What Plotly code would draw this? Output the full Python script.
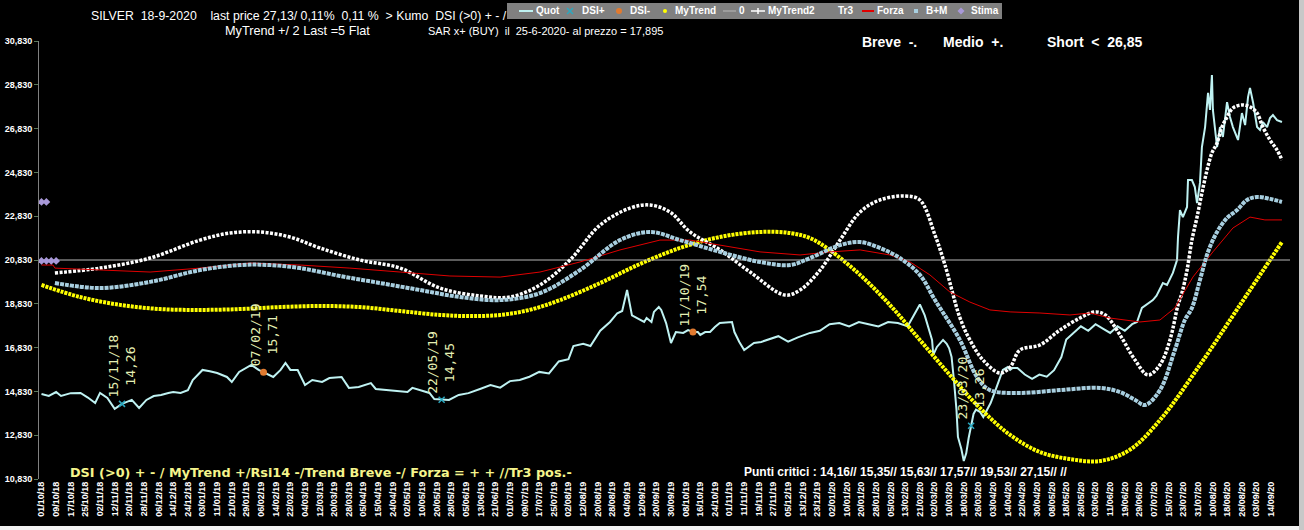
import plotly.graph_objects as go

# ---------------- data ----------------
TICK_LABELS = [
    "01/10/18", "09/10/18", "17/10/18", "25/10/18", "02/11/18", "12/11/18", "20/11/18", "28/11/18",
    "06/12/18", "14/12/18", "24/12/18", "03/01/19", "11/01/19", "21/01/19", "29/01/19", "06/02/19",
    "14/02/19", "22/02/19", "04/03/19", "12/03/19", "20/03/19", "28/03/19", "05/04/19", "15/04/19",
    "24/04/19", "02/05/19", "10/05/19", "20/05/19", "28/05/19", "05/06/19", "13/06/19", "21/06/19",
    "01/07/19", "09/07/19", "17/07/19", "25/07/19", "02/08/19", "12/08/19", "20/08/19", "28/08/19",
    "04/09/19", "12/09/19", "20/09/19", "30/09/19", "08/10/19", "16/10/19", "24/10/19", "01/11/19",
    "11/11/19", "19/11/19", "27/11/19", "05/12/19", "13/12/19", "23/12/19", "02/01/20", "10/01/20",
    "20/01/20", "28/01/20", "05/02/20", "13/02/20", "21/02/20", "02/03/20", "10/03/20", "18/03/20",
    "26/03/20", "03/04/20", "14/04/20", "22/04/20", "30/04/20", "08/05/20", "18/05/20", "26/05/20",
    "03/06/20", "11/06/20", "19/06/20", "29/06/20", "07/07/20", "15/07/20", "23/07/20", "31/07/20",
    "10/08/20", "18/08/20", "26/08/20", "03/09/20", "14/09/20",
]
TICK_STEP = 6  # trading days between labels

quot_day = [0, 3, 6, 8, 12, 16, 19, 22, 24, 27, 30, 33, 35, 37, 40, 43, 46, 49, 52, 54, 57, 60, 62, 66,
            69, 72, 76, 78, 81, 86, 89, 91, 95, 98, 100, 102, 105, 108, 111, 115, 118, 123, 126, 130,
            135, 137, 143, 150, 152, 159, 161, 164, 167, 171, 175, 180, 184, 188, 192, 196, 200, 204,
            208, 212, 216, 218, 222, 225, 229, 233, 236, 238, 240, 242, 245, 247, 248, 250, 251, 253,
            254, 256, 258, 259, 260, 263, 265, 267, 269, 270, 272, 274, 276, 278, 281, 283, 284, 286,
            288, 290, 292, 295, 298, 302, 306, 310, 315, 319, 323, 327, 331, 335, 339, 343, 347, 351,
            355, 357, 360, 362, 364, 365, 365.5, 367, 369.5, 371, 372, 373, 374, 375, 375.6, 377, 378,
            379, 380, 381, 382, 383, 384.6, 386, 387.5, 389, 391, 392, 393, 394, 396, 397, 398, 400,
            403, 406, 409, 412, 415, 418, 420, 423, 426, 429, 432, 435, 438, 441, 444, 447, 449, 451,
            455.5, 457, 459.6, 461.3, 463.7, 465.4, 465.8, 466.6, 467.8, 469.5, 469.9, 471.5, 472.7,
            473.6, 474.8, 475.6, 476.9, 478.1, 478.9, 479.7, 480.1, 481.8, 483, 484.2, 485.9, 487.1,
            488.3, 490.4, 492, 493.3, 494.5, 495.3, 496.6, 498.2, 499.4, 500.6, 502.3, 503.5, 504.7,
            506.4, 508.4]
quot_val = [14.71, 14.62, 14.80, 14.62, 14.75, 14.76, 14.55, 14.30, 14.76, 14.53, 14.03, 14.26, 14.35,
            14.44, 14.07, 14.44, 14.62, 14.67, 14.76, 14.80, 14.76, 14.89, 15.35, 15.81, 15.75, 15.67,
            15.49, 15.26, 15.72, 16.04, 15.81, 15.71, 15.49, 15.81, 16.13, 15.81, 15.81, 15.12, 15.35,
            15.26, 15.44, 15.49, 14.99, 15.03, 15.21, 14.94, 14.89, 14.80, 14.99, 14.76, 14.48, 14.45,
            14.44, 14.67, 14.75, 14.95, 15.12, 15.00, 15.30, 15.35, 15.50, 15.72, 15.65, 16.20, 16.30,
            16.90, 17.00, 16.90, 17.60, 18.00, 18.40, 18.50, 19.46, 18.30, 18.10, 18.00, 18.18, 18.00,
            18.46, 18.68, 18.55, 17.95, 17.04, 17.31, 17.54, 17.50, 17.63, 17.54, 17.54, 17.41, 17.54,
            17.54, 17.77, 17.95, 18.00, 18.00, 17.54, 17.09, 16.72, 16.86, 17.04, 17.09, 17.20, 17.35,
            17.10, 17.30, 17.50, 17.60, 17.90, 17.95, 17.80, 18.00, 17.90, 17.80, 18.00, 17.95, 17.80,
            18.20, 18.80, 18.30, 17.60, 17.18, 16.50, 16.86, 17.18, 17.00, 16.80, 16.40, 15.30, 14.00,
            12.75, 12.20, 11.65, 12.00, 12.70, 13.26, 13.80, 14.00, 13.90, 13.66, 13.98, 14.30, 14.89,
            15.20, 15.44, 15.81, 15.94, 15.81, 15.90, 15.90, 15.60, 15.40, 15.60, 15.50, 15.80, 16.40,
            17.20, 17.50, 17.80, 17.60, 17.90, 17.70, 17.50, 17.80, 17.60, 17.90, 18.00, 18.64, 19.00,
            19.20, 19.78, 19.69, 20.24, 20.83, 21.88, 23.11, 22.79, 23.25, 24.48, 24.48, 24.16, 23.43,
            24.35, 25.99, 26.90, 28.46, 27.68, 29.28, 27.68, 25.99, 26.90, 26.45, 28.04, 27.36, 26.90,
            26.31, 27.54, 26.99, 28.27, 28.69, 28.00, 26.90, 26.77, 27.13, 26.90, 27.31, 27.45, 27.22,
            27.13]

dsi_plus_day = [33, 164, 381]
dsi_plus_val = [14.26, 14.45, 13.26]
dsi_plus_date = ["15/11/18", "22/05/19", "23/03/20"]

dsi_minus_day = [91, 267]
dsi_minus_val = [15.71, 17.54]
dsi_minus_date = ["07/02/19", "11/10/19"]

mytrend_day = [0, 15.8, 32.2, 48.6, 65, 81.4, 97.7, 114.1, 130.5, 147, 163.3, 175.6, 188, 200, 212.5,
               229, 245.3, 261.7, 278, 294.5, 306.8, 315, 323, 335.5, 347.7, 360, 372.3, 384.6, 397,
               409.2, 421.5, 433.8, 446, 458.4, 474.8, 490.4, 508.4]
mytrend_val = [19.69, 19.14, 18.78, 18.59, 18.55, 18.59, 18.68, 18.73, 18.68, 18.50, 18.32, 18.27,
               18.32, 18.55, 19.00, 19.78, 20.65, 21.38, 21.88, 22.11, 22.06, 21.83, 21.29, 20.15,
               18.78, 17.18, 15.58, 14.07, 12.84, 12.06, 11.74, 11.65, 12.16, 13.52, 16.04, 18.64,
               21.65]

zero_day = [-1, 511.7]
zero_val = [20.83, 20.83]

mytrend2_day = [5.5, 24, 44.5, 65, 77.3, 89.5, 101.8, 114.1, 130.5, 147, 163.3, 179.7, 192, 204.3,
                216.6, 229, 241.2, 249.4, 257.6, 265.8, 278.1, 290.4, 304.7, 310.9, 319.1, 327.3,
                335.5, 343.6, 353.9, 360, 366.2, 370.3, 376.4, 380.5, 385.9, 392.8, 397, 401, 409.2,
                417.4, 425.6, 431.8, 436, 442, 448.2, 453.5, 458.4, 462.5, 465.8, 467.4, 469.5,
                471.5, 473.6, 475.6, 477.7, 479.7, 481.8, 483.8, 485.9, 488.3, 492, 495.3, 498.2,
                500.6, 503.5, 506.4, 508.4]
mytrend2_val = [20.24, 20.46, 20.92, 21.74, 22.06, 22.11, 21.88, 21.38, 20.83, 20.46, 19.55, 19.19,
                19.14, 19.69, 20.83, 22.43, 23.20, 23.34, 23.02, 22.11, 21.29, 20.28, 19.23, 19.46,
                20.37, 21.74, 23.02, 23.57, 23.75, 23.57, 21.97, 20.60, 18.20, 17.18, 16.26, 15.67,
                15.94, 16.72, 16.95, 17.63, 18.18, 18.46, 18.32, 17.41, 16.26, 15.58, 16.04, 17.18,
                18.78, 19.32, 20.37, 21.74, 22.79, 23.89, 24.94, 25.72, 26.17, 26.90, 27.36, 27.77,
                27.91, 27.82, 27.54, 26.90, 26.31, 25.85, 25.40]

forza_day = [0, 4.7, 5.5, 28, 44.5, 65, 85.5, 106, 126.4, 147, 167.4, 188, 204.3, 220.7, 237.1, 253.5,
             265.8, 278.1, 294.5, 310.9, 323.2, 335.5, 347.7, 356, 364.1, 372.3, 380.5, 388.7, 397,
             409.2, 421.5, 429.7, 437.9, 450.2, 458.4, 464.5, 471.9, 480.1, 488.3, 495.3, 501.4, 508.4]
forza_val = [20.60, 20.60, 20.46, 20.37, 20.28, 20.46, 20.69, 20.60, 20.46, 20.28, 20.10, 20.05, 20.28,
             20.74, 21.29, 21.74, 21.74, 21.51, 21.20, 21.06, 21.20, 21.29, 21.06, 20.74, 20.15, 19.37,
             18.91, 18.55, 18.46, 18.41, 18.32, 18.41, 18.18, 18.00, 18.09, 18.64, 20.05, 21.20, 22.29,
             22.79, 22.66, 22.66]

bm_day = [5.5, 24, 44.5, 65, 81.4, 93.6, 106, 122.3, 138.7, 155.1, 171.5, 187.9, 204.3, 220.7, 237.1,
          249.4, 261.7, 278.1, 294.5, 306.8, 315, 327.3, 335.5, 343.6, 351.8, 360, 366.2, 376.4,
          383.4, 388.7, 401, 417.4, 433.8, 442, 448.2, 452.3, 458.4, 464.5, 468.6, 471.5, 474.8,
          478.1, 481.8, 485.9, 490, 494.1, 498.2, 503.5, 508.4]
bm_val = [19.78, 19.55, 19.83, 20.37, 20.60, 20.60, 20.46, 20.10, 19.78, 19.46, 19.14, 19.00, 19.32,
          20.37, 21.74, 22.11, 21.74, 21.20, 20.74, 20.60, 20.92, 21.51, 21.65, 21.38, 20.92, 20.15,
          19.00, 17.18, 15.49, 14.89, 14.76, 14.89, 14.99, 14.80, 14.44, 14.21, 14.89, 16.72, 18.09,
          18.64, 19.92, 21.20, 22.11, 22.75, 23.11, 23.57, 23.71, 23.62, 23.48]

stima_day = [0, 2, 0, 2, 4, 6]
stima_val = [23.48, 23.48, 20.79, 20.79, 20.79, 20.79]

LEGEND_NAMES = ["Quot", "DSI+", "DSI-", "MyTrend", "0", "MyTrend2", "Tr3", "Forza", "B+M", "Stima"]

Y_MIN, Y_MAX, Y_STEP = 10.83, 30.83, 2.0
X_RANGE = [-1.02, 511.7]

# ---------------- colours ----------------
C_QUOT, C_DSIP, C_DSIM = "#BFF2F2", "#2AA8C0", "#E07A30"
C_MYT, C_ZERO, C_MYT2 = "#FFFF00", "#B8B8B8", "#FFFFFF"
C_TR3, C_FORZA, C_BM, C_STIMA = "#808080", "#E00000", "#A8CFE0", "#A898D8"

# ---------------- figure geometry ----------------
W, H = 1304, 530
ML, MR, MT, MB = 39, 14, 41, 51
PW, PH = W - ML - MR, H - MT - MB


def px_x(px):
    return (px - ML) / PW


def px_y(py):
    return (H - MB - py) / PH


def nb(s):
    return s.replace(" ", "\u00a0")


fig = go.Figure()
fig.add_trace(go.Scatter(x=quot_day, y=quot_val, name=LEGEND_NAMES[0], mode="lines",
                         line=dict(color=C_QUOT, width=2)))
fig.add_trace(go.Scatter(x=mytrend_day, y=mytrend_val, name=LEGEND_NAMES[3], mode="lines",
                         line=dict(color=C_MYT, width=4, dash="3px,1px", shape="spline")))
fig.add_trace(go.Scatter(x=zero_day, y=zero_val, name=LEGEND_NAMES[4], mode="lines",
                         line=dict(color=C_ZERO, width=1)))
fig.add_trace(go.Scatter(x=mytrend2_day, y=mytrend2_val, name=LEGEND_NAMES[5], mode="lines",
                         line=dict(color=C_MYT2, width=3.5, dash="3px,1.5px", shape="spline")))
fig.add_trace(go.Scatter(x=forza_day, y=forza_val, name=LEGEND_NAMES[7], mode="lines",
                         line=dict(color=C_FORZA, width=1)))
fig.add_trace(go.Scatter(x=bm_day, y=bm_val, name=LEGEND_NAMES[8], mode="lines",
                         line=dict(color=C_BM, width=4, dash="4px,1px", shape="spline")))
fig.add_trace(go.Scatter(x=dsi_plus_day, y=dsi_plus_val, name=LEGEND_NAMES[1], mode="markers",
                         marker=dict(symbol="x-thin", size=6, color=C_DSIP,
                                     line=dict(color=C_DSIP, width=1.5))))
fig.add_trace(go.Scatter(x=dsi_minus_day, y=dsi_minus_val, name=LEGEND_NAMES[2], mode="markers",
                         marker=dict(symbol="circle", size=7, color=C_DSIM)))
fig.add_trace(go.Scatter(x=stima_day, y=stima_val, name=LEGEND_NAMES[9], mode="markers",
                         marker=dict(symbol="diamond", size=6, color=C_STIMA)))

ann = []
shapes = []

# data labels on DSI points
lab_font = dict(family="DejaVu Sans Mono", size=13, color="#E6F0B4")
for d, v, t in list(zip(dsi_plus_day, dsi_plus_val, dsi_plus_date)) + \
        list(zip(dsi_minus_day, dsi_minus_val, dsi_minus_date)):
    ann.append(dict(x=d, y=v, xref="x", yref="y", text=t + "<br>" + f"{v:.2f}".replace(".", ","),
                    showarrow=False, textangle=-90, xanchor="center", yanchor="bottom",
                    yshift=4, font=lab_font))

# header texts
title_font = dict(family="Liberation Sans", size=12.3, color="white")
ann.append(dict(x=px_x(89), y=px_y(16), xref="paper", yref="paper", xanchor="left", yanchor="middle",
                showarrow=False, font=title_font,
                text=nb("SILVER  18-9-2020    last price 27,13/ 0,11%  0,11 %  &gt; Kumo  DSI (&gt;0) + - /")))
ann.append(dict(x=px_x(223), y=px_y(31), xref="paper", yref="paper", xanchor="left", yanchor="middle",
                showarrow=False, font=dict(title_font, size=12.7), text=nb("MyTrend +/ 2 Last =5 Flat")))
ann.append(dict(x=px_x(426), y=px_y(31), xref="paper", yref="paper", xanchor="left", yanchor="middle",
                showarrow=False, font=dict(title_font, size=11),
                text=nb("SAR x+ (BUY)  il  25-6-2020- al prezzo = 17,895")))

bf = dict(family="Liberation Sans", size=14, color="white", weight="bold")
for px, t in [(860, "Breve  -."), (941, "Medio  +."), (1045, "Short  &lt;  26,85")]:
    ann.append(dict(x=px_x(px), y=px_y(42), xref="paper", yref="paper", xanchor="left",
                    yanchor="middle", showarrow=False, font=bf, text=nb(t)))

# footer texts
ann.append(dict(x=px_x(68), y=px_y(472), xref="paper", yref="paper", xanchor="left", yanchor="middle",
                showarrow=False, font=dict(family="DejaVu Sans", size=12.8, color="#F5F58C", weight="bold"),
                text=nb("DSI (&gt;0) + - / MyTrend +/Rsi14 -/Trend Breve -/ Forza = + + //Tr3 pos.-")))
ann.append(dict(x=px_x(742), y=px_y(472), xref="paper", yref="paper", xanchor="left", yanchor="middle",
                showarrow=False,
                font=dict(family="Liberation Sans", size=12, color="white", weight="bold"),
                text=nb("Punti critici : 14,16// 15,35// 15,63// 17,57// 19,53// 27,15// //")))

# ---- legend box drawn by hand (compact Excel-style legend) ----
LY = 11
shapes.append(dict(type="rect", xref="paper", yref="paper", x0=px_x(507), x1=px_x(1002),
                   y0=px_y(3), y1=px_y(19), fillcolor="#808080", line=dict(width=0), layer="above"))


def seg(x0, x1, color, width):
    shapes.append(dict(type="line", xref="paper", yref="paper", x0=px_x(x0), x1=px_x(x1),
                       y0=px_y(LY), y1=px_y(LY), line=dict(color=color, width=width), layer="above"))


def box(cx, r, color, kind="rect"):
    shapes.append(dict(type=kind, xref="paper", yref="paper", x0=px_x(cx - r), x1=px_x(cx + r),
                       y0=px_y(LY + r), y1=px_y(LY - r), fillcolor=color, line=dict(width=0),
                       layer="above"))


seg(519, 533, C_QUOT, 2)
shapes.append(dict(type="line", xref="paper", yref="paper", x0=px_x(567), x1=px_x(573),
                   y0=px_y(LY - 3), y1=px_y(LY + 3), line=dict(color=C_DSIP, width=1.5), layer="above"))
shapes.append(dict(type="line", xref="paper", yref="paper", x0=px_x(567), x1=px_x(573),
                   y0=px_y(LY + 3), y1=px_y(LY - 3), line=dict(color=C_DSIP, width=1.5), layer="above"))
box(619, 3, C_DSIM, "circle")
box(665, 2, C_MYT, "circle")
seg(723, 736, C_ZERO, 1)
seg(751, 765, C_MYT2, 1.5)
shapes.append(dict(type="line", xref="paper", yref="paper", x0=px_x(758), x1=px_x(758),
                   y0=px_y(LY - 3), y1=px_y(LY + 3), line=dict(color=C_MYT2, width=1.5), layer="above"))
seg(862, 874, C_FORZA, 2)
box(916, 2, C_BM)
shapes.append(dict(type="path", xref="paper", yref="paper", layer="above", fillcolor=C_STIMA,
                   line=dict(width=0),
                   path="M {a},{b} L {c},{d} L {a},{e} L {f},{d} Z".format(
                       a=px_x(961), b=px_y(LY - 3.5), c=px_x(964.5), d=px_y(LY),
                       e=px_y(LY + 3.5), f=px_x(957.5))))
legend_text_x = [534, 580, 628, 673, 737, 766, 836, 875, 924, 969]
for name, tx in zip(LEGEND_NAMES, legend_text_x):
    ann.append(dict(x=px_x(tx), y=px_y(LY), xref="paper", yref="paper", xanchor="left",
                    yanchor="middle", showarrow=False, text=name,
                    font=dict(family="Liberation Sans", size=10, color="white", weight="bold")))

# Excel sheet edges visible around the chart
shapes.append(dict(type="rect", xref="paper", yref="paper", x0=px_x(1299), x1=px_x(1305),
                   y0=px_y(531), y1=px_y(0), fillcolor="#C8C8C8", line=dict(width=0), layer="above"))
shapes.append(dict(type="rect", xref="paper", yref="paper", x0=px_x(-1), x1=px_x(1299),
                   y0=px_y(531), y1=px_y(526), fillcolor="#F2F2F2", line=dict(width=0), layer="above"))

tick_vals_x = [i * TICK_STEP for i in range(len(TICK_LABELS))]
n_y = int(round((Y_MAX - Y_MIN) / Y_STEP))
tick_vals_y = [Y_MIN + i * Y_STEP for i in range(n_y + 1)]

fig.update_layout(
    width=W, height=H,
    margin=dict(l=ML, r=MR, t=MT, b=MB, pad=0, autoexpand=False),
    paper_bgcolor="black", plot_bgcolor="black",
    separators=",.",
    showlegend=False,
    annotations=ann,
    shapes=shapes,
    xaxis=dict(range=X_RANGE, tickmode="array", tickvals=tick_vals_x, ticktext=TICK_LABELS,
               tickangle=-90, showgrid=False, zeroline=False, showline=False, ticks="",
               tickfont=dict(family="Liberation Sans", size=9, color="white", weight="bold"),
               fixedrange=True),
    yaxis=dict(range=[Y_MIN, Y_MAX], tickmode="array", tickvals=tick_vals_y, tickformat=".3f",
               showgrid=False, zeroline=False, showline=True, linecolor="#808080", linewidth=1,
               ticks="outside", ticklen=4, tickcolor="#5A7A5A",
               tickfont=dict(family="Liberation Sans", size=9, color="white", weight="bold"),
               fixedrange=True),
)

fig.write_html("out.html",
               config={"displayModeBar": False, "staticPlot": True},
               post_script="document.body.style.margin='0';"
                           "document.body.style.background='black';"
                           "document.body.style.overflow='hidden';")
